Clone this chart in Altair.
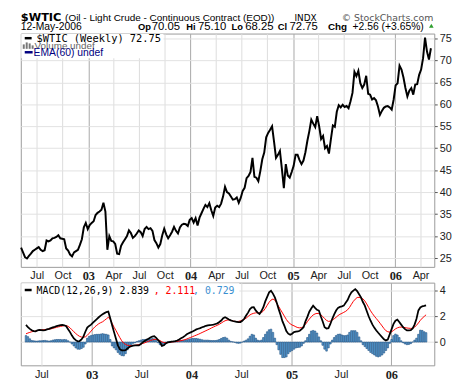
import altair as alt
import pandas as pd

# ---------------- data ----------------
first_week = "2002-05-06"   # weekly points (Mondays)

price = [
    27.4, 26.3, 25.2, 24.9, 25.5, 26.0, 26.6, 26.9, 27.2, 27.5,
    26.9, 26.6, 26.8, 29.0, 28.8, 29.0, 29.5, 29.6, 29.8, 30.2,
    29.5, 29.4, 29.3, 27.2, 26.7, 25.8, 25.4, 26.3, 26.6, 26.9,
    28.0, 29.3, 32.0, 33.0, 31.6, 32.5, 33.0, 33.4, 34.8, 35.3,
    35.6, 36.0, 37.6, 35.6, 26.9, 30.0, 28.9, 28.8, 28.2, 26.0,
    25.9, 27.8, 28.6, 29.3, 30.0, 31.3, 30.7, 29.6, 30.0, 30.6,
    31.3, 30.9, 30.0, 31.6, 32.1, 31.6, 31.8, 31.2, 29.1, 28.4,
    27.4, 28.2, 30.2, 31.7, 30.4, 29.5, 30.2, 31.0, 32.1, 31.2,
    30.6, 32.0, 32.6, 32.8, 32.7, 32.3, 33.7, 34.1, 33.1, 34.1,
    32.4, 34.2, 35.2, 36.2, 37.1, 36.6, 37.5, 35.9, 34.6, 36.5,
    36.9, 36.6, 37.4, 39.0, 41.2, 40.0, 39.7, 39.0, 38.3, 38.4,
    38.8, 37.6, 38.7, 40.3, 41.0, 43.2, 43.7, 44.6, 47.8, 43.5,
    43.3, 42.5, 44.8, 47.5, 49.0, 52.5, 53.5, 54.2, 55.0, 51.5,
    47.8, 48.5, 49.4, 45.3, 40.9, 46.4, 43.8, 43.3, 44.6, 46.0,
    48.5, 48.5, 47.3, 46.4, 47.2, 49.1, 51.7, 53.9, 56.5, 55.6,
    54.8, 57.3, 55.0, 52.1, 52.8, 50.0, 50.5, 48.8, 52.1, 55.2,
    54.9, 58.3, 59.8, 59.3, 59.9, 59.4, 59.6, 59.1, 60.7, 62.6,
    67.4, 66.4, 67.6, 64.8, 63.7, 64.5, 66.5, 62.4, 62.2, 61.1,
    61.4, 60.9, 59.5, 57.6, 58.5, 59.2, 59.5, 59.6, 59.3, 58.8,
    61.1, 64.3, 64.8, 68.8, 67.9, 66.1, 63.7, 61.8, 63.1, 63.7,
    62.2, 64.5, 64.6, 66.7, 67.9, 70.5, 75.2, 72.0, 70.2, 72.75,
]

macd_line = [
    1.33, 1.15, 1.02, 0.92, 0.85, 0.83, 0.90, 0.95, 0.93, 0.90,
    0.93, 0.98, 1.02, 1.08, 1.14, 1.18, 1.24, 1.28, 1.31, 1.33,
    1.30, 1.23, 1.00, 0.77, 0.50, 0.28, 0.15, 0.06, 0.08, 0.20,
    0.42, 0.80, 1.12, 1.25, 1.35, 1.50, 1.64, 1.78, 1.92, 2.05,
    2.15, 2.24, 2.32, 2.36, 1.85, 1.30, 0.77, 0.25, -0.25, -0.55,
    -0.64, -0.65, -0.62, -0.50, -0.38, -0.32, -0.27, -0.25, -0.25, -0.26,
    -0.15, -0.02, 0.08, 0.18, 0.26, 0.35, 0.43, 0.46, 0.33, 0.15,
    0.00, -0.30, -0.25, -0.10, -0.03, 0.00, 0.03, 0.05, 0.08, 0.12,
    0.20, 0.30, 0.38, 0.48, 0.60, 0.68, 0.75, 0.82, 0.90, 0.98,
    1.03, 1.08, 1.15, 1.20, 1.26, 1.30, 1.32, 1.33, 1.35, 1.40,
    1.45, 1.55, 1.67, 1.85, 1.92, 1.85, 1.75, 1.68, 1.63, 1.60,
    1.57, 1.54, 1.55, 1.65, 1.80, 2.05, 2.28, 2.55, 2.68, 2.70,
    2.45, 2.28, 2.18, 2.40, 2.70, 3.15, 3.50, 3.85, 3.97, 3.75,
    3.46, 3.05, 2.55, 2.10, 1.60, 1.25, 0.85, 0.65, 0.56, 0.65,
    0.77, 0.80, 0.82, 0.88, 1.00, 1.15, 1.60, 1.95, 2.35, 2.60,
    2.82, 2.65, 2.50, 2.44, 2.00, 1.59, 1.15, 1.05, 1.08, 1.40,
    1.80, 2.15, 2.44, 2.65, 2.72, 2.76, 2.82, 3.05, 3.25, 3.60,
    3.85, 3.98, 4.10, 3.95, 3.70, 3.46, 3.10, 2.82, 2.40, 2.00,
    1.65, 1.35, 1.10, 0.90, 0.72, 0.55, 0.38, 0.22, 0.13, 0.20,
    0.60, 1.00, 1.41, 1.65, 1.74, 1.55, 1.35, 1.15, 1.00, 0.90,
    0.90, 0.92, 1.05, 1.35, 1.80, 2.45, 2.68, 2.77, 2.80, 2.84,
]

signal_line = [
    0.64, 0.70, 0.75, 0.80, 0.83, 0.86, 0.89, 0.92, 0.94, 0.96,
    0.97, 0.99, 1.00, 1.02, 1.06, 1.10, 1.14, 1.18, 1.21, 1.24,
    1.27, 1.28, 1.22, 1.10, 0.95, 0.80, 0.66, 0.54, 0.44, 0.39,
    0.38, 0.40, 0.52, 0.68, 0.85, 1.02, 1.18, 1.30, 1.42, 1.50,
    1.57, 1.68, 1.80, 1.92, 1.75, 1.45, 1.15, 0.90, 0.62, 0.35,
    0.10, -0.08, -0.18, -0.25, -0.27, -0.27, -0.26, -0.25, -0.22, -0.19,
    -0.15, -0.11, -0.06, 0.00, 0.06, 0.12, 0.17, 0.20, 0.21, 0.18,
    0.12, 0.02, -0.04, -0.05, -0.04, -0.02, 0.00, 0.02, 0.03, 0.05,
    0.08, 0.11, 0.15, 0.19, 0.24, 0.30, 0.36, 0.42, 0.48, 0.54,
    0.60, 0.67, 0.74, 0.81, 0.88, 0.95, 1.02, 1.10, 1.17, 1.24,
    1.30, 1.38, 1.47, 1.57, 1.65, 1.70, 1.72, 1.68, 1.64, 1.60,
    1.59, 1.60, 1.64, 1.70, 1.76, 1.85, 1.98, 2.10, 2.18, 2.23,
    2.26, 2.27, 2.26, 2.28, 2.40, 2.60, 2.85, 3.08, 3.25, 3.33,
    3.25, 3.00, 2.75, 2.50, 2.25, 2.00, 1.75, 1.55, 1.42, 1.32,
    1.26, 1.18, 1.12, 1.10, 1.12, 1.20, 1.38, 1.58, 1.78, 1.95,
    2.10, 2.18, 2.22, 2.20, 2.12, 1.98, 1.82, 1.68, 1.60, 1.62,
    1.70, 1.80, 1.92, 2.05, 2.15, 2.22, 2.30, 2.38, 2.50, 2.68,
    2.92, 3.15, 3.32, 3.45, 3.46, 3.42, 3.35, 3.18, 2.95, 2.68,
    2.42, 2.20, 2.00, 1.82, 1.64, 1.45, 1.25, 1.05, 0.88, 0.80,
    0.77, 0.80, 0.90, 1.02, 1.10, 1.15, 1.16, 1.15, 1.12, 1.09,
    1.07, 1.06, 1.07, 1.15, 1.30, 1.48, 1.68, 1.85, 1.98, 2.11,
]

histogram = [
    0.50, 0.42, 0.25, 0.12, 0.10, 0.08, 0.08, 0.10, 0.10, 0.12,
    0.13, 0.10, 0.08, 0.10, 0.15, 0.18, 0.20, 0.20, 0.20, 0.18,
    0.20, 0.18, 0.10, 0.00, -0.15, -0.30, -0.45, -0.55, -0.56, -0.50,
    -0.40, -0.15, 0.30, 0.45, 0.50, 0.55, 0.58, 0.60, 0.60, 0.62,
    0.65, 0.62, 0.60, 0.55, 0.20, -0.30, -0.45, -0.60, -0.80, -0.95,
    -1.05, -1.07, -0.90, -0.60, -0.35, -0.20, -0.10, -0.05, 0.05, 0.10,
    0.15, 0.20, 0.20, 0.22, 0.25, 0.25, 0.28, 0.25, 0.12, -0.05,
    -0.20, -0.30, -0.25, -0.10, 0.00, 0.05, 0.05, 0.05, 0.08, 0.10,
    0.12, 0.12, 0.13, 0.15, 0.18, 0.22, 0.25, 0.28, 0.28, 0.28,
    0.25, 0.22, 0.18, 0.15, 0.15, 0.15, 0.13, 0.12, 0.12, 0.12,
    0.15, 0.20, 0.28, 0.35, 0.38, 0.30, 0.15, 0.05, 0.02, -0.02,
    -0.08, -0.10, -0.08, 0.00, 0.08, 0.15, 0.25, 0.45, 0.60, 0.55,
    0.30, 0.15, 0.10, 0.15, 0.35, 0.60, 0.80, 0.95, 1.00, 0.75,
    0.30, -0.20, -0.60, -0.95, -1.20, -1.20, -1.15, -0.90, -0.75, -0.65,
    -0.55, -0.45, -0.42, -0.40, -0.30, -0.10, 0.10, 0.35, 0.60, 0.85,
    0.90, 0.85, 0.70, 0.40, 0.10, -0.25, -0.55, -0.70, -0.45, -0.15,
    0.15, 0.35, 0.50, 0.60, 0.62, 0.55, 0.50, 0.50, 0.55, 0.75,
    0.88, 0.88, 0.88, 0.75, 0.40, 0.10, -0.20, -0.35, -0.50, -0.65,
    -0.80, -0.90, -1.00, -1.10, -1.15, -1.10, -1.00, -0.85, -0.65, -0.45,
    -0.10, 0.20, 0.50, 0.62, 0.55, 0.35, 0.10, -0.05, -0.15, -0.20,
    -0.18, -0.12, 0.00, 0.15, 0.30, 0.60, 0.92, 0.90, 0.80, 0.73,
]

quarter_ticks = [
    "2002-07-01", "2002-10-01", "2003-01-01", "2003-04-01", "2003-07-01",
    "2003-10-01", "2004-01-01", "2004-04-01", "2004-07-01", "2004-10-01",
    "2005-01-01", "2005-04-01", "2005-07-01", "2005-10-01", "2006-01-01",
    "2006-04-01",
]
price_ticks = [25, 30, 35, 40, 45, 50, 55, 60, 65, 70, 75]
macd_ticks = [0, 2, 4]
x_range = ["2002-05-05", "2006-05-20"]


def ms(s):
    return int(pd.Timestamp(s, tz="UTC").value // 1_000_000)


dates = pd.date_range(first_week, periods=len(price), freq="7D")
df = pd.DataFrame({
    "date": [d.strftime("%Y-%m-%d") for d in dates],
    "price": price,
    "macd": macd_line,
    "signal": signal_line,
    "hist": histogram,
})
one = pd.DataFrame({"k": [0]})

W = 420
H_MAIN = 237
H_MACD = 84

is_year = "utcmonth(datum.value) == 0"
x_scale = alt.Scale(type="utc", domain=[ms(x_range[0]), ms(x_range[1])])


def x_axis():
    return alt.Axis(
        values=[ms(q) for q in quarter_ticks],
        labelExpr="utcmonth(datum.value) == 0 ? utcFormat(datum.value, '%y') : utcFormat(datum.value, '%b')",
        labelFont={"condition": {"test": is_year, "value": "Liberation Serif"}, "value": "Liberation Sans"},
        labelFontWeight={"condition": {"test": is_year, "value": "bold"}, "value": "normal"},
        labelFontSize={"condition": {"test": is_year, "value": 12.5}, "value": 11},
        gridColor={"condition": {"test": is_year, "value": "#a8a8a8"}, "value": "#dcdcdc"},
        grid=True, ticks=False, domain=False, labelPadding=3,
        labelColor="#222222", labelFlush=False, labelOverlap=False, title=None,
    )


def y_axis(vals):
    return alt.Axis(
        orient="right", values=vals, grid=True, gridColor="#e2e2e2",
        domain=False, ticks=True, tickSize=3, tickColor="#555555",
        labelFont="Liberation Sans", labelFontSize=11, labelColor="#222222",
        labelPadding=2, title=None,
    )


def txt(s, x, y, size=11, font="Liberation Sans", weight="normal",
        color="#000000", align="left"):
    return alt.Chart(one).mark_text(
        text=s, align=align, baseline="alphabetic", font=font,
        fontSize=size, fontWeight=weight, color=color,
    ).encode(x=alt.value(x), y=alt.value(y))


def box(x1, x2, y1, y2, color):
    return alt.Chart(one).mark_rect(color=color).encode(
        x=alt.value(x1), x2=alt.value(x2), y=alt.value(y1), y2=alt.value(y2))


def dash(x1, x2, y, color, w=2.5):
    return alt.Chart(one).mark_rule(color=color, strokeWidth=w).encode(
        x=alt.value(x1), x2=alt.value(x2), y=alt.value(y))


# ---------------- main price panel ----------------
price_line = alt.Chart(df).mark_line(color="black", strokeWidth=2).encode(
    x=alt.X("date:T", scale=x_scale, axis=x_axis()),
    y=alt.Y("price:Q", scale=alt.Scale(domain=[23, 76.1], nice=False, zero=False),
            axis=y_axis(price_ticks)),
)

header = [
    txt("$WTIC", 0, -13, size=11.5, font="DejaVu Sans", weight="bold"),
    txt("(Oil - Light Crude - Continuous Contract (EOD))", 45, -13, size=10.1),
    txt("INDX", 278, -13, size=9, font="DejaVu Sans"),
    txt("\u00a9 StockCharts.com", 419, -13, size=9.5, font="DejaVu Sans",
        color="#555555", align="right"),
    txt("12-May-2006", 0, -4, size=10.5),
    txt("Op", 119, -4, size=9.5, weight="bold"),
    txt("70.05", 133, -4, size=11.5),
    txt("Hi", 168, -4, size=9.5, weight="bold"),
    txt("75.10", 180, -4, size=11.5),
    txt("Lo", 214, -4, size=9.5, weight="bold"),
    txt("68.25", 228, -4, size=11.5),
    txt("Cl", 261, -4, size=9.5, weight="bold"),
    txt("72.75", 273, -4, size=11.5),
    txt("Chg", 312, -4, size=10, weight="bold"),
    txt("+2.56 (+3.65%)", 337, -4, size=10.5),
    alt.Chart(one).mark_point(shape="triangle-up", filled=True, color="#2e9e2e",
                              size=22, opacity=1).encode(
        x=alt.value(417), y=alt.value(-8)),
]

main_legend = [
    box(0.5, 145, 0.5, 25, "white"),
    dash(4, 11, 4.7, "black"),
    txt("$WTIC (Weekly) 72.75", 16, 8.5, size=10.5, font="DejaVu Sans Mono"),
    box(2, 4, 11, 15.5, "#777777"),
    box(5, 7, 9, 15.5, "#777777"),
    box(8, 10, 10, 15.5, "#777777"),
    box(11, 13, 12, 15.5, "#777777"),
    txt("Volume undef", 14, 15.8, size=10, color="#666666"),
    dash(4, 12, 19, "#000080"),
    txt("EMA(60) undef", 13, 23, size=10.5, color="#000080"),
]

main = alt.layer(*main_legend, price_line, *header).properties(
    width=W, height=H_MAIN)

# ---------------- MACD panel ----------------
hist_bars = alt.Chart(df).mark_bar(
    size=1.6, fill="#5a9fd4", stroke="#1f4f7f", strokeWidth=0.6
).encode(
    x=alt.X("date:T", scale=x_scale, axis=x_axis()),
    y=alt.Y("hist:Q", scale=alt.Scale(domain=[-1.8, 4.6], nice=False, zero=False),
            axis=y_axis(macd_ticks)),
)
signal_plot = alt.Chart(df).mark_line(color="#ff0000", strokeWidth=1).encode(
    x="date:T", y="signal:Q")
macd_plot = alt.Chart(df).mark_line(color="black", strokeWidth=1.8).encode(
    x="date:T", y="macd:Q")

macd_legend = [
    box(0.5, 222, 0.5, 14, "white"),
    dash(4, 11, 7.5, "black"),
    txt("MACD(12,26,9) 2.839", 16, 11.5, size=10, font="DejaVu Sans Mono"),
    txt(", 2.111", 135, 11.5, size=10, font="DejaVu Sans Mono", color="#ff0000"),
    txt(", 0.729", 175, 11.5, size=10, font="DejaVu Sans Mono", color="#3a8fd0"),
]

macd = alt.layer(hist_bars, *macd_legend, signal_plot, macd_plot).properties(
    width=W, height=H_MACD)

chart = alt.vconcat(main, macd, spacing=-3).properties(
    padding={"left": 8, "top": 0, "right": 0, "bottom": 0},
    background="white",
).configure_view(stroke="#9a9a9a", strokeWidth=1)

chart.save("out.html", embed_options={"renderer": "svg", "actions": False})
